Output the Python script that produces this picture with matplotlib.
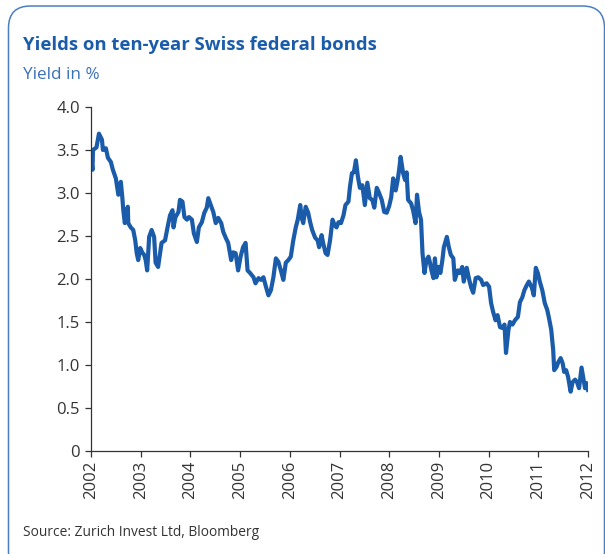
import matplotlib.pyplot as plt
import matplotlib.patches as mpatches
from matplotlib.transforms import IdentityTransform

# decimal year / yield in %
years = [
    2002.00, 2002.03, 2002.04, 2002.11, 2002.16, 2002.22, 2002.24, 2002.30, 2002.34, 2002.40,
    2002.44, 2002.50, 2002.55, 2002.60, 2002.63, 2002.65, 2002.68, 2002.74, 2002.75, 2002.80,
    2002.85, 2002.89, 2002.92, 2002.95, 2002.99, 2003.03, 2003.07, 2003.10, 2003.13, 2003.17,
    2003.22, 2003.27, 2003.30, 2003.35, 2003.39, 2003.42, 2003.49, 2003.54, 2003.59, 2003.64,
    2003.66, 2003.70, 2003.76, 2003.79, 2003.84, 2003.88, 2003.93, 2003.97, 2004.03, 2004.07,
    2004.13, 2004.17, 2004.23, 2004.28, 2004.33, 2004.36, 2004.41, 2004.46, 2004.51, 2004.56,
    2004.62, 2004.66, 2004.71, 2004.76, 2004.82, 2004.86, 2004.91, 2004.96, 2005.01, 2005.06,
    2005.11, 2005.15, 2005.20, 2005.27, 2005.31, 2005.37, 2005.42, 2005.47, 2005.52, 2005.57,
    2005.62, 2005.67, 2005.72, 2005.77, 2005.82, 2005.87, 2005.92, 2005.97, 2006.02, 2006.07,
    2006.12, 2006.16, 2006.21, 2006.24, 2006.27, 2006.32, 2006.37, 2006.41, 2006.45, 2006.51,
    2006.56, 2006.59, 2006.64, 2006.67, 2006.72, 2006.76, 2006.81, 2006.86, 2006.90, 2006.94,
    2006.98, 2007.03, 2007.08, 2007.12, 2007.18, 2007.21, 2007.25, 2007.29, 2007.33, 2007.37,
    2007.41, 2007.46, 2007.51, 2007.56, 2007.61, 2007.66, 2007.70, 2007.75, 2007.79, 2007.85,
    2007.90, 2007.95, 2008.00, 2008.04, 2008.08, 2008.13, 2008.17, 2008.20, 2008.23, 2008.28,
    2008.32, 2008.35, 2008.38, 2008.44, 2008.48, 2008.53, 2008.56, 2008.60, 2008.64, 2008.67,
    2008.71, 2008.75, 2008.79, 2008.82, 2008.85, 2008.89, 2008.92, 2008.95, 2008.99, 2009.03,
    2009.07, 2009.10, 2009.16, 2009.20, 2009.24, 2009.29, 2009.32, 2009.38, 2009.42, 2009.47,
    2009.50, 2009.56, 2009.61, 2009.65, 2009.69, 2009.74, 2009.79, 2009.85, 2009.89, 2009.96,
    2010.01, 2010.05, 2010.09, 2010.14, 2010.18, 2010.23, 2010.28, 2010.32, 2010.35, 2010.40,
    2010.43, 2010.48, 2010.53, 2010.59, 2010.63, 2010.68, 2010.72, 2010.77, 2010.81, 2010.87,
    2010.91, 2010.95, 2010.99, 2011.03, 2011.08, 2011.13, 2011.18, 2011.21, 2011.26, 2011.30,
    2011.32, 2011.37, 2011.40, 2011.45, 2011.49, 2011.52, 2011.56, 2011.60, 2011.65, 2011.69,
    2011.74, 2011.78, 2011.82, 2011.87, 2011.91, 2011.94, 2011.97, 2012.00,
]
yields = [
    3.41, 3.27, 3.50, 3.53, 3.69, 3.62, 3.50, 3.52, 3.41, 3.36,
    3.27, 3.17, 2.98, 3.13, 2.95, 2.80, 2.65, 2.84, 2.65, 2.60,
    2.57, 2.45, 2.30, 2.22, 2.36, 2.31, 2.28, 2.22, 2.10, 2.49,
    2.57, 2.49, 2.19, 2.14, 2.30, 2.42, 2.45, 2.60, 2.74, 2.80,
    2.60, 2.72, 2.78, 2.92, 2.90, 2.72, 2.69, 2.72, 2.69, 2.53,
    2.43, 2.60, 2.66, 2.77, 2.83, 2.94, 2.86, 2.78, 2.65, 2.71,
    2.65, 2.55, 2.48, 2.42, 2.22, 2.31, 2.30, 2.10, 2.26, 2.37,
    2.42, 2.10, 2.07, 2.02, 1.95, 2.01, 1.99, 2.02, 1.91, 1.81,
    1.87, 2.02, 2.24, 2.20, 2.10, 1.99, 2.19, 2.22, 2.26, 2.45,
    2.60, 2.69, 2.86, 2.71, 2.65, 2.84, 2.77, 2.66, 2.57, 2.48,
    2.45, 2.37, 2.51, 2.42, 2.30, 2.28, 2.45, 2.69, 2.63, 2.60,
    2.66, 2.65, 2.74, 2.86, 2.90, 3.07, 3.23, 3.24, 3.38, 3.19,
    3.06, 3.09, 2.86, 3.12, 2.94, 2.92, 2.83, 3.06, 3.01, 2.92,
    2.78, 2.77, 2.85, 2.95, 3.17, 3.03, 3.15, 3.27, 3.42, 3.23,
    3.15, 3.24, 2.92, 2.88, 2.80, 2.65, 2.98, 2.78, 2.69, 2.30,
    2.07, 2.22, 2.26, 2.19, 2.10, 2.01, 2.24, 2.02, 2.14, 2.07,
    2.22, 2.37, 2.49, 2.37, 2.28, 2.24, 1.99, 2.10, 2.07, 2.14,
    1.97, 2.13, 1.99, 1.90, 1.84, 2.01, 2.02, 1.99, 1.93, 1.95,
    1.91, 1.72, 1.62, 1.52, 1.58, 1.44, 1.43, 1.47, 1.14, 1.41,
    1.50, 1.47, 1.52, 1.56, 1.73, 1.79, 1.87, 1.93, 1.97, 1.90,
    1.81, 2.13, 2.07, 1.97, 1.87, 1.72, 1.64, 1.56, 1.41, 1.17,
    0.94, 0.98, 1.03, 1.08, 1.02, 0.92, 0.94, 0.86, 0.69, 0.80,
    0.83, 0.80, 0.73, 0.97, 0.83, 0.73, 0.79, 0.71,
]
year_ticks = list(range(2002, 2013))
yield_ticks = [0, 0.5, 1.0, 1.5, 2.0, 2.5, 3.0, 3.5, 4.0]
yield_labels = ['0', '0.5', '1.0', '1.5', '2.0', '2.5', '3.0', '3.5', '4.0']

BLUE = '#1a5caa'
GREY = '#333333'
plt.rcParams['font.family'] = ['Open Sans', 'DejaVu Sans']

fig = plt.figure(figsize=(6.05, 5.54), dpi=100)

# rounded frame, runs off the right and bottom edges
frame = mpatches.FancyBboxPatch((8.5, -20), 596, 568, boxstyle='round,pad=0,rounding_size=22',
                                transform=IdentityTransform(), facecolor='none',
                                edgecolor='#4a7fc0', linewidth=1.1)
fig.patches.append(frame)

fig.text(23 / 605, 1 - 45 / 554, 'Yields on ten-year Swiss federal bonds', color=BLUE,
         fontsize=13.3, fontweight='bold', va='center', ha='left')
fig.text(23 / 605, 1 - 75 / 554, 'Yield in %', color='#3a70b8', fontsize=12.3, va='center', ha='left')
fig.text(23 / 605, 1 - 532 / 554, 'Source: Zurich Invest Ltd, Bloomberg', color=GREY,
         fontsize=9.9, va='center', ha='left')

ax = fig.add_axes([91 / 605, 1 - 451 / 554, (588 - 91) / 605, (451 - 107) / 554])
ax.plot(years, yields, color=BLUE, linewidth=3.0, solid_joinstyle='round')

ax.set_xlim(2002, 2012)
ax.set_ylim(0, 4.0)
ax.set_xticks(year_ticks)
ax.set_xticklabels([str(y) for y in year_ticks], rotation=90)
ax.set_yticks(yield_ticks)
ax.set_yticklabels(yield_labels)

for s in ['top', 'right']:
    ax.spines[s].set_visible(False)
for s in ['left', 'bottom']:
    ax.spines[s].set_color(GREY)
    ax.spines[s].set_linewidth(0.9)
ax.tick_params(axis='both', colors=GREY, labelcolor=GREY, labelsize=12, length=4, width=0.9, pad=3)
ax.tick_params(axis='y', pad=4)

fig.savefig('out.png', dpi=100)
